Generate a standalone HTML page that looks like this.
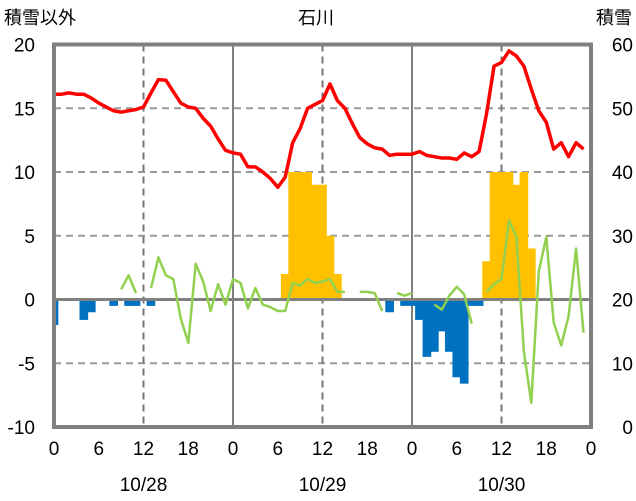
<!DOCTYPE html>
<html><head><meta charset="utf-8">
<style>
body{margin:0;background:#fff;}
svg{display:block;font-family:"Liberation Sans","Noto Sans CJK JP",sans-serif;}
</style></head>
<body>
<svg id="chart" width="636" height="501">
  <text x="4" y="24" font-size="18" fill="#000">積雪以外</text>
  <text x="316" y="24" font-size="18" fill="#000" text-anchor="middle">石川</text>
  <text x="632" y="24" font-size="18" fill="#000" text-anchor="end">積雪</text>
</svg>
<script>
const hours = Array.from({length:73},(_,i)=>i);
const redLine = [16.1,16.1,16.2,16.1,16.1,15.8,15.4,15.1,14.8,14.7,14.8,14.9,15.1,16.2,17.25,17.2,16.3,15.4,15.1,15.0,14.2,13.6,12.6,11.7,11.5,11.4,10.4,10.4,10.0,9.5,8.8,9.6,12.3,13.4,15.0,15.3,15.6,16.9,15.6,15.0,13.8,12.7,12.2,11.9,11.8,11.3,11.4,11.4,11.4,11.6,11.3,11.2,11.1,11.1,11.0,11.5,11.2,11.6,14.6,18.3,18.6,19.5,19.1,18.3,16.5,14.8,13.9,11.8,12.3,11.2,12.3,11.8];
const greenLine = [null,null,null,null,null,null,null,null,null,0.8,1.9,0.5,null,0.9,3.3,1.9,1.6,-1.5,-3.4,2.8,1.4,-0.9,1.2,-0.4,1.6,1.3,-0.7,0.9,-0.4,-0.6,-0.9,-0.9,1.3,1.1,1.6,1.3,1.4,1.6,0.6,0.6,null,0.6,0.6,0.5,-0.9,null,0.5,0.3,0.5,null,null,-0.4,-0.8,0.3,1.0,0.4,-1.9,null,0.6,1.2,1.6,6.2,4.9,-4.1,-8.1,2.2,4.9,-1.8,-3.6,-1.3,4.0,-2.6];
const yellowBars = {31:2,32:10,33:10,34:10,35:9,36:9,37:5,38:2,58:3,59:10,60:10,61:10,62:9,63:10,64:4};
const blueBars = {0:-2,4:-1.6,5:-1.0,8:-0.5,10:-0.5,11:-0.5,13:-0.5,45:-1.0,47:-0.5,48:-0.5,49:-1.6,50:-4.5,51:-4.1,52:-2.5,53:-4.1,54:-6.1,55:-6.6,56:-0.5,57:-0.5};
const snowDepth = Array.from({length:72},()=>0);
const leftTicks = [20,15,10,5,0,-5,-10];
const rightTicks = [60,50,40,30,20,10,0];
const xTickLabels = ["0","6","12","18","0","6","12","18","0","6","12","18","0"];
const dateLabels = ["10/28","10/29","10/30"];

const X0=54, X1=591, YT=44.5, YB=427;
const xs = h => X0 + h*(X1-X0)/72;
const ys = v => YB - (v+10)*(YB-YT)/30;
const ysR = s => YB - s*(YB-YT)/60;
const svg = document.getElementById('chart');
const NS='http://www.w3.org/2000/svg';
function mk(tag, attrs){const e=document.createElementNS(NS,tag);for(const k in attrs)e.setAttribute(k,attrs[k]);svg.appendChild(e);return e;}

[15,10,5,-5].forEach(v=>{
  const g=mk('line',{x1:X0,x2:X1,y1:ys(v),y2:ys(v),stroke:'#999','stroke-width':2,'stroke-dasharray':'7,5'});
  
  
});
[12,36,60].forEach(h=>{
  const g=mk('line',{x1:xs(h),x2:xs(h),y1:YT,y2:YB,stroke:'#777','stroke-width':2,'stroke-dasharray':'7,5'});
  
  
});
[24,48].forEach(h=>{
  const g=mk('line',{x1:xs(h),x2:xs(h),y1:YT,y2:YB,stroke:'#808080','stroke-width':2});
  
  
});
const bw=(X1-X0)/72;
for(const h in yellowBars){
  const v=yellowBars[h]; let l=Math.max(X0,xs(+h)-bw/2-0.6);
  const r=mk('rect',{x:l,y:ys(v),width:xs(+h)+bw/2+0.6-l,height:ys(0)-ys(v),fill:'#FFC000'});
  
  
}
for(const h in blueBars){
  const v=blueBars[h]; let l=Math.max(X0,xs(+h)-bw/2-0.6);
  const r=mk('rect',{x:l,y:ys(0),width:xs(+h)+bw/2+0.6-l,height:ys(v)-ys(0),fill:'#0070C0'});
  
  
}
const z=mk('line',{x1:X0,x2:X1,y1:ys(0),y2:ys(0),stroke:'#808080','stroke-width':3});


let d='',pen=false;
greenLine.forEach((v,i)=>{ if(v===null){pen=false;return;} d+=(pen?'L':'M')+xs(i).toFixed(1)+','+ys(v).toFixed(1); pen=true;});
const gl=mk('path',{d:d,fill:'none',stroke:'#92D050','stroke-width':2.5,'stroke-linejoin':'round'});


const rl=mk('path',{d:redLine.map((v,i)=>(i?'L':'M')+xs(i).toFixed(1)+','+ys(v).toFixed(1)).join(''),fill:'none',stroke:'#FF0000','stroke-width':3.5,'stroke-linejoin':'round'});


const pl=mk('path',{d:snowDepth.map((v,i)=>(i?'L':'M')+xs(i).toFixed(1)+','+ysR(v).toFixed(1)).join(''),fill:'none',stroke:'#7030A0','stroke-width':3});


const fr=mk('rect',{x:X0,y:YT,width:X1-X0,height:YB-YT,fill:'none',stroke:'#808080','stroke-width':4});


leftTicks.forEach(v=>{
  const t=mk('text',{x:35,y:ys(v)+7,'font-size':19,'text-anchor':'end',fill:'#000'});t.textContent=v;
  
  
});
rightTicks.forEach(v=>{
  const t=mk('text',{x:633,y:ysR(v)+7,'font-size':19,'text-anchor':'end',fill:'#000'});t.textContent=v;
  
  
});
xTickLabels.forEach((s,i)=>{
  const t=mk('text',{x:xs(i*6),y:455,'font-size':19,'text-anchor':'middle',fill:'#000'});t.textContent=s;
  
  
});
dateLabels.forEach((s,i)=>{
  const t=mk('text',{x:xs(12+24*i),y:491,'font-size':19,'text-anchor':'middle',fill:'#000'});t.textContent=s;
  
  
});
</script>
</body></html>
